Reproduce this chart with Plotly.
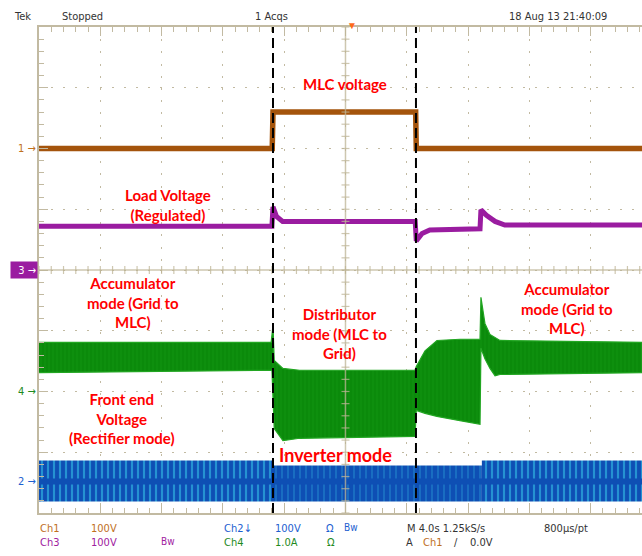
import plotly.graph_objects as go

# ---------------- acquisition / channel setup ----------------
SEC_PER_DIV = 4.0          # M 4.0s
T_VISIBLE = 39.35          # right edge of the captured screen (s)
N_YDIV = 4                 # +/- vertical divisions

# channel: (ground offset in divisions, units per division)
ch1_offset, ch1_scale = 2.0, 100.0     # MLC voltage, 100 V/div
ch3_offset, ch3_scale = 0.0, 100.0     # load voltage, 100 V/div
ch4_offset, ch4_scale = -2.0, 1.0      # front end, 1.0 A/div
ch2_offset, ch2_scale = -3.48, 100.0   # inverter side, 100 V/div

# instants at which the operating mode changes (s)
mode_change_times = [15.27, 24.60]

# ---------------- Ch1 : MLC voltage (V) ----------------
ch1_t = [0.0, 15.22, 15.27, 24.58, 24.62, 39.35]
ch1_v = [0.0, 0.0, 60.0, 60.0, 0.0, 0.0]

# ---------------- Ch3 : load voltage (V) ----------------
ch3_t = [0.0, 15.20, 15.27, 15.50, 15.90, 24.55, 24.62, 25.00, 25.50,
         28.78, 28.84, 29.20, 29.76, 30.40, 39.35]
ch3_v = [72.0, 72.0, 104.0, 88.0, 80.0, 80.0, 48.0, 60.0, 66.0,
         68.0, 99.0, 90.0, 80.0, 74.0, 74.0]

# ---------------- Ch4 : front end current envelope (A) ----------------
ch4_t_hi = [0.0, 15.15, 15.27, 15.35, 15.92, 17.00, 24.54, 24.62, 25.19,
            25.97, 27.47, 28.78, 28.84, 29.10, 29.43, 30.08, 39.35]
ch4_hi = [0.81, 0.81, 1.09, 0.51, 0.38, 0.35, 0.35, 0.41, 0.67,
          0.84, 0.86, 0.86, 1.55, 1.12, 0.94, 0.84, 0.81]
ch4_t_lo = [0.0, 15.20, 15.35, 15.92, 17.00, 24.54, 24.62, 25.19, 25.97,
            27.47, 28.78, 28.84, 29.10, 29.43, 29.76, 30.08, 39.35]
ch4_lo = [0.31, 0.35, -0.61, -0.81, -0.77, -0.74, -0.31, -0.36, -0.41,
          -0.48, -0.54, 0.71, 0.54, 0.38, 0.26, 0.28, 0.31]

# ---------------- Ch2 : inverter voltage envelope (V) ----------------
ch2_t_busy_a = [0.0, 15.27]
ch2_t_quiet = [15.27, 28.90]
ch2_t_busy_b = [28.90, 39.35]
ch2_hi_busy, ch2_hi_quiet, ch2_lo = 34.6, 26.3, -33.0

# ---------------- colours ----------------
GRID = "#C2BAA2"
BROWN = "#A4540C"
PURPLE = "#9A1CA0"
GREEN = "#0B8A0B"
BLUE = "#0E4FB4"
CYAN = "#3CD6F0"
RED = "#FF0000"
SCOPE_FONT = "Liberation Sans Narrow, DejaVu Sans Condensed, Liberation Sans"

# plot-area placement on the 642 x 556 screen
W, H = 642, 556
M_L, M_R, M_T, M_B = 39, 0, 27, 43
PLOT_W, PLOT_H = W - M_L - M_R, H - M_T - M_B


def axis_range(offset, scale):
    return [(-N_YDIV - offset) * scale, (N_YDIV - offset) * scale]


def band(t_hi, hi, t_lo, lo):
    return list(t_hi) + list(t_lo)[::-1], list(hi) + list(lo)[::-1]


fig = go.Figure()

# Ch2 (blue) - dense switching ripple drawn as a striped band
for seg_t, seg_hi, solidity in [(ch2_t_busy_a, ch2_hi_busy, 0.35),
                                (ch2_t_quiet, ch2_hi_quiet, 0.15),
                                (ch2_t_busy_b, ch2_hi_busy, 0.35)]:
    bx, by = band(seg_t, [seg_hi] * len(seg_t), seg_t, [ch2_lo] * len(seg_t))
    fig.add_trace(go.Scatter(
        x=bx, y=by, yaxis="y5", mode="lines", fill="toself",
        line=dict(width=0, color=BLUE), fillcolor=BLUE,
        fillpattern=dict(shape="|", fgcolor=CYAN, bgcolor=BLUE,
                         size=6, solidity=solidity),
        hoverinfo="skip", showlegend=False))
fig.add_trace(go.Scatter(
    x=[ch2_t_busy_a[0], ch2_t_busy_b[-1]], y=[0, 0], yaxis="y5", mode="lines",
    line=dict(width=6, color=BLUE), hoverinfo="skip", showlegend=False))

# Ch4 (green) envelope
gx, gy = band(ch4_t_hi, ch4_hi, ch4_t_lo, ch4_lo)
fig.add_trace(go.Scatter(
    x=gx, y=gy, yaxis="y4", mode="lines", fill="toself",
    line=dict(width=1.2, color="#22A622"), fillcolor=GREEN,
    fillpattern=dict(shape="|", fgcolor="#129812", bgcolor=GREEN,
                     size=4, solidity=0.35),
    hoverinfo="skip", showlegend=False))

# Ch3 (purple) load voltage
fig.add_trace(go.Scatter(
    x=ch3_t, y=ch3_v, yaxis="y3", mode="lines",
    line=dict(width=5, color=PURPLE), hoverinfo="skip", showlegend=False))

# Ch1 (brown) MLC voltage
fig.add_trace(go.Scatter(
    x=ch1_t, y=ch1_v, yaxis="y2", mode="lines",
    line=dict(width=5.5, color=BROWN, shape="linear"),
    hoverinfo="skip", showlegend=False))

# ---------------- graticule centre cross with minor ticks ----------------
shapes = []
t_center = 5 * SEC_PER_DIV
cross = "rgba(190,180,150,0.75)"
shapes.append(dict(type="line", xref="x", yref="y", x0=t_center, x1=t_center,
                   y0=-N_YDIV, y1=N_YDIV, line=dict(color=cross, width=1.5),
                   layer="above"))
shapes.append(dict(type="line", xref="x", yref="y", x0=0, x1=10 * SEC_PER_DIV,
                   y0=0, y1=0, line=dict(color=cross, width=1.5), layer="above"))
k = 0
while k * SEC_PER_DIV / 5 <= T_VISIBLE:
    tk = k * SEC_PER_DIV / 5
    shapes.append(dict(type="line", xref="x", yref="y", ysizemode="pixel",
                       yanchor=0, x0=tk, x1=tk, y0=-4, y1=4,
                       line=dict(color=cross, width=1.2), layer="above"))
    k += 1
for k in range(-5 * N_YDIV, 5 * N_YDIV + 1):
    yk = k / 5
    shapes.append(dict(type="line", xref="x", yref="y", xsizemode="pixel",
                       xanchor=t_center, x0=-4, x1=4, y0=yk, y1=yk,
                       line=dict(color=cross, width=1.2), layer="above"))

# dashed markers at the mode transitions
for tm in mode_change_times:
    shapes.append(dict(type="line", xref="x", yref="y", x0=tm, x1=tm,
                       y0=-N_YDIV, y1=N_YDIV,
                       line=dict(color="black", width=2, dash="10px,5px"),
                       layer="above"))

# ---------------- text ----------------
ann = []


def red(text, t, ydiv, size=15):
    ann.append(dict(text=text, x=t, y=ydiv, xref="x", yref="y",
                    showarrow=False, align="center",
                    font=dict(family="Lato, Open Sans", size=size,
                              color=RED, weight="bold")))


red("MLC voltage", 19.97, 3.06)
red("Load Voltage<br>(Regulated)", 8.42, 1.07)
red("Accumulator<br>mode (Grid to<br>MLC)", 6.13, -0.53)
red("Distributor<br>mode (MLC to<br>Grid)", 19.58, -1.04)
red("Accumulator<br>mode (Grid to<br>MLC)", 34.45, -0.63)
red("Front end<br>Voltage<br>(Rectifier mode)", 5.42, -2.45)
red("Inverter mode", 19.38, -3.05, size=18)


def scope_text(text, x_px, y_px, color="#333333", size=11, anchor="left"):
    ann.append(dict(text=text,
                    x=(x_px - M_L) / PLOT_W, y=(H - M_B - y_px) / PLOT_H,
                    xref="paper", yref="paper", showarrow=False,
                    xanchor=anchor, yanchor="middle",
                    font=dict(family=SCOPE_FONT, size=size, color=color)))


# header
scope_text("Tek", 12, 17)
scope_text("Stopped", 60, 17)
scope_text("1 Acqs", 253, 17)
scope_text("18 Aug 13 21:40:09", 507, 17)

# footer settings readout
C1, C2, C3, C4 = "#C0701E", "#1C60D0", "#A020A0", "#1E8A1E"
scope_text("Ch1", 38, 528, C1)
scope_text("100V", 89, 528, C1)
scope_text("Ch2↓", 222, 528, C2)
scope_text("100V", 273, 528, C2)
scope_text("Ω", 324, 528, C2)
scope_text("Bw", 342, 527, C2, size=10)
scope_text("M 4.0s 1.25kS/s", 405, 528)
scope_text("800µs/pt", 542, 528)
scope_text("Ch3", 38, 542, C3)
scope_text("100V", 89, 542, C3)
scope_text("Bw", 159, 541, C3, size=10)
scope_text("Ch4", 222, 542, C4)
scope_text("1.0A", 273, 542, C4)
scope_text("Ω", 325, 542, C4)
scope_text("A", 404, 542)
scope_text("Ch1", 421, 542, C1)
scope_text("/", 452, 542)
scope_text("0.0V", 468, 542)

# channel ground markers on the left edge
for label, axis, color, boxed in [("1", "y2", C1, False), ("3", "y3", "white", True),
                                  ("4", "y4", C4, False), ("2", "y5", C2, False)]:
    a = dict(text=f"{label} →", x=0, y=0, xref="paper", yref=axis,
             showarrow=False, xanchor="right", yanchor="middle", xshift=-1,
             font=dict(family=SCOPE_FONT, size=11, color=color))
    if boxed:
        a.update(bgcolor=PURPLE, width=24, height=14, align="right", borderpad=1)
    ann.append(a)

# trigger position marker
ann.append(dict(text="▼", x=20.4, y=1, xref="x", yref="paper", showarrow=False,
                yanchor="middle", yshift=2, font=dict(size=10, color="#FF6A1A")))

axis_common = dict(showticklabels=False, zeroline=False, fixedrange=True,
                   showline=True, linecolor=GRID, linewidth=1.5,
                   ticks="inside", tickcolor=GRID, ticklen=9, tickwidth=1.2,
                   showgrid=True, gridcolor=GRID, gridwidth=1.2)

fig.update_layout(
    width=W, height=H,
    margin=dict(l=M_L, r=M_R, t=M_T, b=M_B, pad=0),
    paper_bgcolor="white", plot_bgcolor="white",
    showlegend=False,
    xaxis=dict(range=[0, T_VISIBLE], dtick=SEC_PER_DIV, tick0=0,
               mirror="ticks", griddash="2px,10.2px",
               minor=dict(dtick=SEC_PER_DIV / 5, ticks="inside", ticklen=5,
                          tickcolor=GRID, showgrid=False),
               **axis_common),
    yaxis=dict(range=[-N_YDIV, N_YDIV], dtick=1, tick0=0,
               mirror=False, griddash="2px,10.1px",
               minor=dict(dtick=0.2, ticks="inside", ticklen=5,
                          tickcolor=GRID, showgrid=False),
               **axis_common),
    yaxis2=dict(range=axis_range(ch1_offset, ch1_scale), overlaying="y", visible=False),
    yaxis3=dict(range=axis_range(ch3_offset, ch3_scale), overlaying="y", visible=False),
    yaxis4=dict(range=axis_range(ch4_offset, ch4_scale), overlaying="y", visible=False),
    yaxis5=dict(range=axis_range(ch2_offset, ch2_scale), overlaying="y", visible=False),
    shapes=shapes,
    annotations=ann,
)

fig.write_html("out.html")
